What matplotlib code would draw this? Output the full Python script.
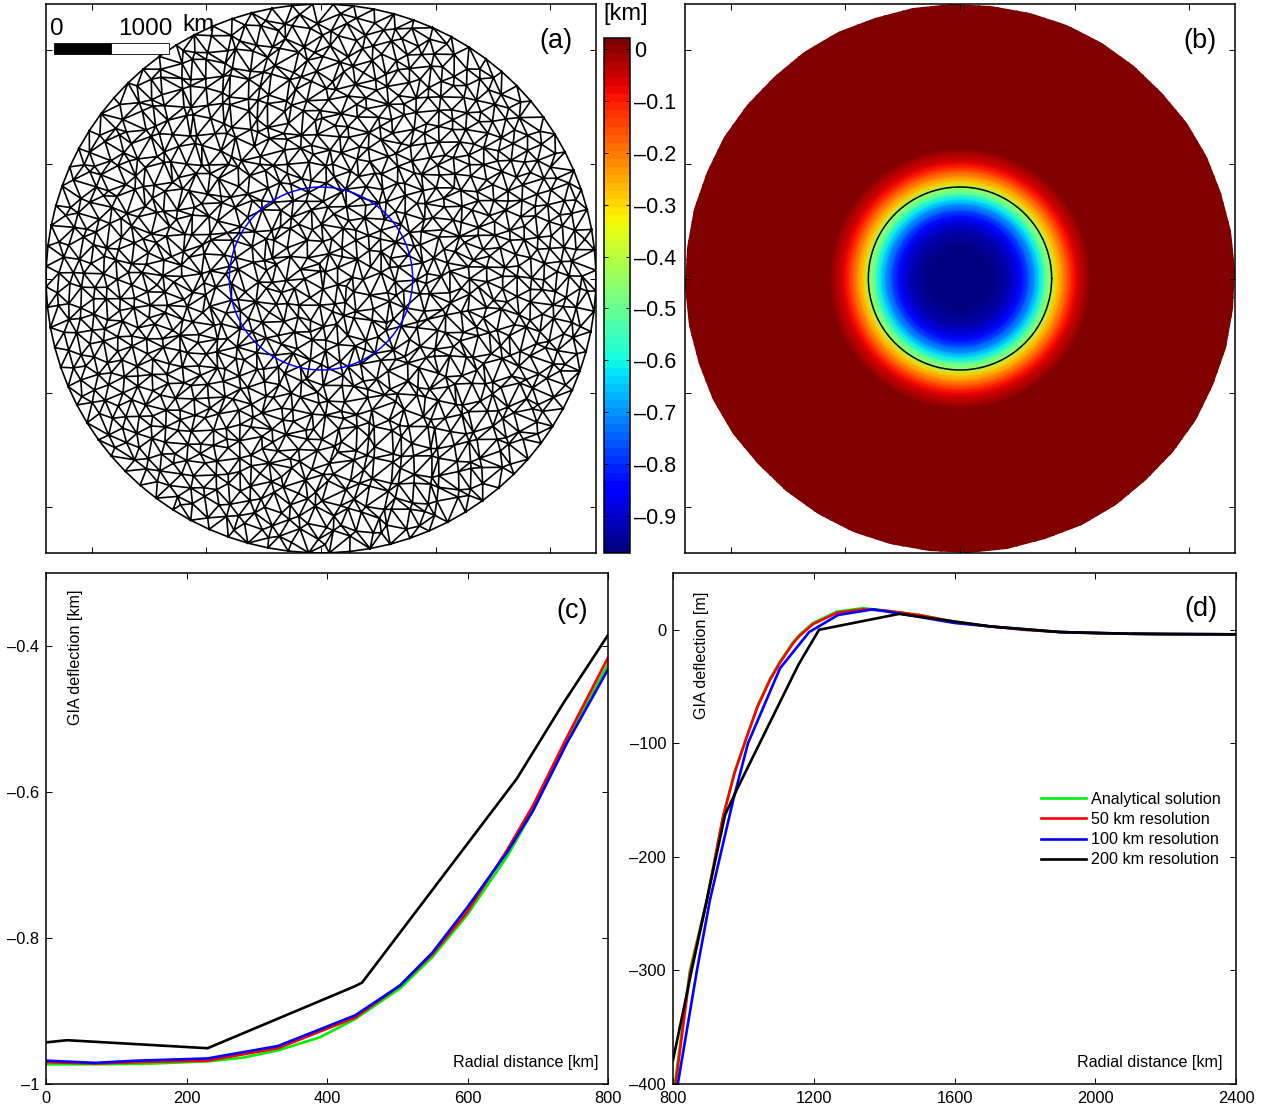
import numpy as np
import matplotlib
matplotlib.use("Agg")
import matplotlib.pyplot as plt
import matplotlib.tri as mtri
from matplotlib.patches import Polygon, Rectangle
from matplotlib.cm import ScalarMappable
from matplotlib.colors import Normalize

plt.rcParams['font.family'] = ['Liberation Sans', 'DejaVu Sans']

W, H = 1265, 1107

# panel (c), radial distance in km, deflection in km
c_green_x = [0, 70, 150, 230, 280, 330, 390, 440, 504, 550, 599, 656, 693, 741, 800]
c_green_y = [-0.973, -0.973, -0.972, -0.969, -0.964, -0.954, -0.936, -0.911, -0.869, -0.826, -0.769, -0.689, -0.626, -0.530, -0.425]
c_red_x = [0, 70, 130, 230, 330, 440, 504, 550, 599, 656, 693, 741, 800]
c_red_y = [-0.970, -0.972, -0.970, -0.968, -0.951, -0.909, -0.865, -0.822, -0.765, -0.680, -0.619, -0.526, -0.416]
c_blue_x = [0, 70, 130, 230, 330, 440, 504, 550, 599, 656, 693, 741, 800]
c_blue_y = [-0.968, -0.971, -0.968, -0.965, -0.948, -0.906, -0.865, -0.820, -0.759, -0.683, -0.626, -0.534, -0.432]
c_black_x = [0, 30, 230, 440, 450, 670, 736, 800]
c_black_y = [-0.943, -0.940, -0.951, -0.866, -0.861, -0.582, -0.479, -0.385]

# panel (d), radial distance in km, deflection in m
d_green_x = [800, 848, 896, 942, 975, 1010, 1040, 1076, 1104, 1141, 1161, 1198, 1266, 1340, 1400, 1500, 1600, 1700, 1800, 1900, 2000, 2200, 2400]
d_green_y = [-412, -300, -238, -165, -125, -94, -67, -43, -28, -11, -4, 6, 16, 19, 17, 13, 7, 3, 0, -2, -3, -4, -4]
d_red_x = d_green_x
d_red_y = [-418, -303, -239, -165, -126, -94, -68, -44, -29, -12, -5, 5, 15, 18, 17, 13, 7, 3, 0, -2, -3, -4, -4]
d_blue_x = [800, 868, 905, 971, 1013, 1104, 1161, 1187, 1269, 1368, 1450, 1600, 1700, 1900, 2100, 2400]
d_blue_y = [-425, -300, -238, -150, -100, -34, -12, -2, 13, 18, 14, 6, 3, -2, -3.5, -4]
d_black_x = [800, 853, 896, 948, 981, 1156, 1215, 1443, 1700, 1900, 2100, 2400]
d_black_y = [-379, -300, -238, -163, -141, -31, 0, 14, 3, -2, -3.5, -4]

labels = ['Analytical solution', '50 km resolution', '100 km resolution', '200 km resolution']
colors = ['#00ee00', '#ff0000', '#0000ff', '#000000']
c_xticks = [0, 200, 400, 600, 800]
c_yticks = [-1, -0.8, -0.6, -0.4]
c_ylabels = ['\u20131', '\u20130.8', '\u20130.6', '\u20130.4']
d_xticks = [800, 1200, 1600, 2000, 2400]
d_yticks = [-400, -300, -200, -100, 0]
d_ylabels = ['\u2013400', '\u2013300', '\u2013200', '\u2013100', '0']
cb_ticks = [0, -0.1, -0.2, -0.3, -0.4, -0.5, -0.6, -0.7, -0.8, -0.9]
cb_labels = ['0'] + ['\u20130.%d' % i for i in range(1, 10)]
map_ticks = [-2000, -1000, 0, 1000, 2000]
domain_r = 2400
ice_r = 800

LW = 1.9
BIG = 17.5
SMALL = 11.6


def axes_px(left, top, right, bottom):
    return fig.add_axes([left / W, 1 - bottom / H, (right - left) / W, (bottom - top) / H])


def style(ax):
    for s in ax.spines.values():
        s.set_linewidth(1.1)
    ax.tick_params(direction='in', top=True, right=True, length=4.5, width=0.7, labelsize=11.8, pad=5)


def make_mesh():
    # the node layout of the mesh can't be read off one by one, so this is a
    # stand-in: a fixed spiral of nodes, pushed off the spiral by a fixed
    # sequence, inside a ring of boundary nodes
    n = 1180
    k = np.arange(1, n + 1)
    r = domain_r * 0.975 * np.sqrt((k - 0.5) / n)
    a = k * np.pi * (3 - np.sqrt(5))
    x = r * np.cos(a) + 32 * np.sin(k * 1.4142)
    y = r * np.sin(a) + 32 * np.sin(k * 1.7321)
    rr = np.hypot(x, y)
    f = np.minimum(1, domain_r * 0.97 / rr)
    t = np.linspace(0, 2 * np.pi, 84, endpoint=False) + 0.03
    bx = domain_r * np.cos(t)
    by = domain_r * np.sin(t)
    return np.r_[x * f, bx], np.r_[y * f, by]


fig = plt.figure(figsize=(W / 100, H / 100), dpi=100)
mx, my = make_mesh()
t = np.linspace(0, 2 * np.pi, 200)

# (a) mesh
ax = axes_px(46, 4, 596, 553)
style(ax)
ax.triplot(mtri.Triangulation(mx, my), color='k', lw=1.2)
ax.plot(ice_r * np.cos(t), ice_r * np.sin(t), color='#0000ff', lw=1.1)
ax.set_xlim(-domain_r, domain_r)
ax.set_ylim(-domain_r, domain_r)
ax.set_xticks(map_ticks)
ax.set_yticks(map_ticks)
ax.set_xticklabels([])
ax.set_yticklabels([])
ax.add_patch(Rectangle((-2330, 1962), 500, 96, fc='k', ec='k', lw=0.6, zorder=5))
ax.add_patch(Rectangle((-1830, 1962), 500, 96, fc='w', ec='k', lw=0.6, zorder=5))
ax.text(-2305, 2185, '0', fontsize=BIG, ha='center', va='center', zorder=6)
ax.text(-1530, 2185, '1000', fontsize=BIG, ha='center', va='center', zorder=6)
ax.text(-1070, 2215, 'km', fontsize=BIG, ha='center', va='center', zorder=6)
ax.text(0.927, 0.932, '(a)', transform=ax.transAxes, fontsize=19.5, ha='center', va='center')

# (b) deflection map, radial profile taken from the analytical curves of (c) and (d)
radii = np.array([v for v in c_green_x] + [v for v in d_green_x if v > 800], dtype=float)
prof = np.array(c_green_y + [v / 1000 for v, x in zip(d_green_y, d_green_x) if x > 800])
vmin, vmax = -0.971, 0.021
cmap = plt.get_cmap('jet', 64)
ax = axes_px(685, 4, 1235, 553)
style(ax)
th = np.linspace(0, 2 * np.pi, 181)
X = np.outer(radii, np.cos(th))
Y = np.outer(radii, np.sin(th))
Z = np.tile(prof[:, None], (1, len(th)))
# the far field stays in the darkest colour step, as in the original
pm = ax.pcolormesh(X, Y, Z, cmap=cmap, vmin=vmin, vmax=0.004, shading='gouraud')
# outline of the coloured mesh has visible corners
side = np.linspace(0, 2 * np.pi, 44, endpoint=False) + 0.03
clip = Polygon(np.c_[domain_r * np.cos(side), domain_r * np.sin(side)], closed=True,
               transform=ax.transData, fc='none', ec='none')
ax.add_patch(clip)
pm.set_clip_path(clip)
ax.plot(ice_r * np.cos(t), ice_r * np.sin(t), color='k', lw=1.1)
ax.set_xlim(-domain_r, domain_r)
ax.set_ylim(-domain_r, domain_r)
ax.set_xticks(map_ticks)
ax.set_yticks(map_ticks)
ax.set_xticklabels([])
ax.set_yticklabels([])
ax.text(0.937, 0.932, '(b)', transform=ax.transAxes, fontsize=19.5, ha='center', va='center')

# colorbar
cax = axes_px(604, 38, 630, 553)
cb = fig.colorbar(ScalarMappable(Normalize(vmin, vmax), cmap), cax=cax)
cb.set_ticks(cb_ticks)
cb.set_ticklabels(cb_labels)
cb.outline.set_linewidth(1.1)
cax.tick_params(direction='in', left=True, right=True, length=3, width=0.7, labelsize=15.5, pad=3)
fig.text(626 / W, 1 - 14 / H, '[km]', fontsize=17, ha='center', va='center')

# (c)
ax = axes_px(46, 573, 608, 1084)
style(ax)
ax.plot(c_green_x, c_green_y, color=colors[0], lw=LW)
ax.plot(c_red_x, c_red_y, color=colors[1], lw=LW)
ax.plot(c_blue_x, c_blue_y, color=colors[2], lw=LW)
ax.plot(c_black_x, c_black_y, color=colors[3], lw=LW)
ax.set_xlim(0, 800)
ax.set_ylim(-1, -0.3)
ax.set_xticks(c_xticks)
ax.set_yticks(c_yticks)
ax.set_yticklabels(c_ylabels)
ax.text(0.937, 0.925, '(c)', transform=ax.transAxes, fontsize=19.5, ha='center', va='center')
ax.text(0.983, 0.042, 'Radial distance [km]', transform=ax.transAxes, fontsize=SMALL, ha='right', va='center')
ax.text(0.052, 0.835, 'GIA deflection [km]', transform=ax.transAxes, fontsize=SMALL, rotation=90, ha='center', va='center')

# (d)
ax = axes_px(673, 573, 1236, 1084)
style(ax)
ax.plot(d_green_x, d_green_y, color=colors[0], lw=LW, label=labels[0])
ax.plot(d_red_x, d_red_y, color=colors[1], lw=LW, label=labels[1])
ax.plot(d_blue_x, d_blue_y, color=colors[2], lw=LW, label=labels[2])
ax.plot(d_black_x, d_black_y, color=colors[3], lw=LW, label=labels[3])
ax.set_xlim(800, 2400)
ax.set_ylim(-400, 50)
ax.set_xticks(d_xticks)
ax.set_yticks(d_yticks)
ax.set_yticklabels(d_ylabels)
ax.legend(loc='center right', bbox_to_anchor=(0.973, 0.498), frameon=False, fontsize=SMALL,
          handlelength=2.75, handletextpad=0.33, labelspacing=0.33, borderpad=0, borderaxespad=0)
ax.text(0.937, 0.929, '(d)', transform=ax.transAxes, fontsize=19.5, ha='center', va='center')
ax.text(0.976, 0.042, 'Radial distance [km]', transform=ax.transAxes, fontsize=SMALL, ha='right', va='center')
ax.text(0.05, 0.838, 'GIA deflection [m]', transform=ax.transAxes, fontsize=SMALL, rotation=90, ha='center', va='center')

fig.savefig('out.png', dpi=100)
